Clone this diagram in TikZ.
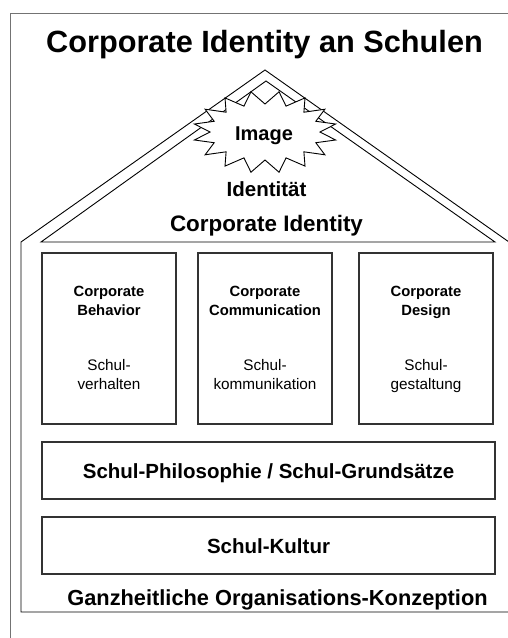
\documentclass[tikz,border=0pt]{standalone}
\usepackage{fontspec}
\setmainfont{Liberation Sans}
\begin{document}
\begin{tikzpicture}[x=1pt,y=-1pt,
  frame/.style={draw=black!55, line width=0.9pt},
  roof/.style={draw=black, line width=0.9pt},
  pillar/.style={draw=black!80, line width=1.2pt, fill=white,
    minimum width=134pt, minimum height=171pt, inner sep=0pt},
  layer/.style={draw=black!80, line width=1.2pt, minimum width=453pt,
    minimum height=57pt, inner sep=0pt, text height=15.4pt, text depth=0pt,
    font=\bfseries\fontsize{20.5}{24}\selectfont},
  head/.style={anchor=base, font=\bfseries\fontsize{14.8}{18}\selectfont},
  sub/.style={anchor=base, font=\fontsize{15.3}{18}\selectfont},
  big/.style={anchor=base, font=\bfseries\fontsize{#1}{#1}\selectfont},
]
\useasboundingbox (0,0) rectangle (508,638);
\clip (0,0) rectangle (508,638);
\fill[white] (0,0) rectangle (508,638);

% outer frame (runs off the right and lower edges)
\draw[frame] (10,660) -- (10,13) -- (530,13);

% house: outer roof and walls
\coordinate (oL) at (21,242);
\coordinate (oA) at (265,70);
\coordinate (oR) at (509,242);
\draw[roof] (530,612) -- (21,612) -- (oL) -- (oA) -- (oR) -- (509,660);
% inner roof with the ceiling line
\coordinate (iL) at (41,242);
\coordinate (iA) at (266,81);
\coordinate (iR) at (495,242);
\draw[roof] (iL) -- (iA) -- (iR) -- cycle;

% title
\node[big=30.7] (title) at (264.5,52) {Corporate Identity an Schulen};

% starburst with "Image"
\begin{scope}[shift={(265,132)}]
  \draw[roof, fill=white, line join=miter]
    plot[samples at={0,...,31}, variable=\k]
      ({ifthenelse(isodd(\k),72,55)*cos(11.25*\k)},
       {ifthenelse(isodd(\k),41,28)*sin(11.25*\k)}) -- cycle;
\end{scope}
\node[big=20] (img) at (264,140) {Image};

\node[big=20.5] (ident) at (266.5,196.5) {Identität};
\node[big=22.4] (ci) at (266.5,231.5) {Corporate Identity};

% the three pillars
\node[pillar] (b1) at (109,338.5) {};
\node[pillar] (b2) at (265,338.5) {};
\node[pillar] (b3) at (426,338.5) {};

\node[head] (b1h1) at ([yshift=-44pt]b1.north) {Corporate};
\node[head] (b1h2) at ([yshift=-63pt]b1.north) {Behavior};
\node[sub]  (b1s1) at ([yshift=-118.5pt]b1.north) {Schul-};
\node[sub]  (b1s2) at ([yshift=-137.5pt]b1.north) {verhalten};

\node[head] (b2h1) at ([yshift=-44pt]b2.north) {Corporate};
\node[head] (b2h2) at ([yshift=-63pt]b2.north) {Communication};
\node[sub]  (b2s1) at ([yshift=-118.5pt]b2.north) {Schul-};
\node[sub]  (b2s2) at ([yshift=-137.5pt]b2.north) {kommunikation};

\node[head] (b3h1) at ([yshift=-44pt]b3.north) {Corporate};
\node[head] (b3h2) at ([yshift=-63pt]b3.north) {Design};
\node[sub]  (b3s1) at ([yshift=-118.5pt]b3.north) {Schul-};
\node[sub]  (b3s2) at ([yshift=-137.5pt]b3.north) {gestaltung};

% foundation layers
\node[layer] (phil) at (268.5,470.5) {Schul-Philosophie / Schul-Grundsätze};
\node[layer] (kult) at (268.5,545.5) {Schul-Kultur};

\node[big=21.8] (ganz) at (277.5,605) {Ganzheitliche Organisations-Konzeption};
\end{tikzpicture}
\end{document}
